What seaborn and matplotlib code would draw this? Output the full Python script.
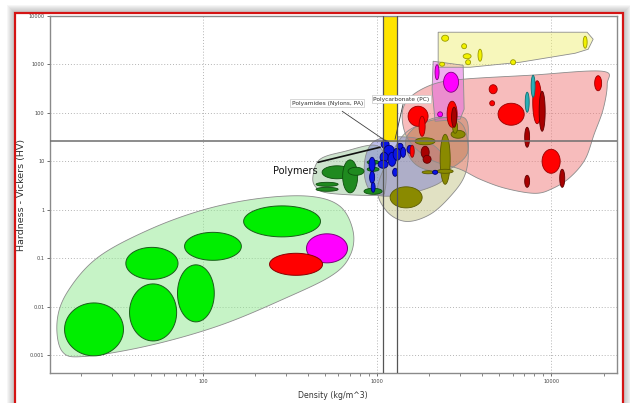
import numpy as np
import matplotlib
matplotlib.use("Agg")
import matplotlib.pyplot as plt
from matplotlib.patches import Rectangle
from matplotlib.ticker import FixedLocator, FuncFormatter, LogLocator, NullFormatter
import seaborn as sns

# ---------------- data ----------------
# bubbles: (low, high) density in kg/m^3 and (low, high) Vickers hardness in HV
foam_rho = [(16.0, 34.9), (37.8, 70.5), (36.0, 71.8), (71.3, 116), (78.3, 166), (171, 473)]
foam_hv = [(0.00096, 0.0119), (0.00195, 0.0294), (0.0365, 0.167), (0.00483, 0.0728), (0.0902, 0.341), (0.275, 1.20)]
rigid_foam_rho = [(393, 676)]
rigid_foam_hv = [(0.080, 0.318)]
metal_foam_rho = [(241, 486)]
metal_foam_hv = [(0.0442, 0.126)]

elast_rho = [(483, 718), (634, 773), (681, 841), (446, 597), (446, 597), (841, 1069), (877, 1026), (877, 1026)]
elast_hv = [(4.35, 8.07), (2.23, 10.7), (5.14, 7.52), (3.04, 3.68), (2.40, 2.90), (2.08, 2.77), (8.67, 10.5), (6.21, 7.52)]

natural_rho = [(1188, 1815), (1652, 2153), (2303, 2630), (2661, 3205), (2717, 2902), (2212, 2735), (1815, 2127)]
natural_hv = [(1.09, 2.97), (21.9, 30.6), (3.35, 36.1), (29.9, 43.6), (37.9, 67.0), (5.65, 6.84), (5.52, 6.37)]

polymer_rho = [(1055, 1172), (1097, 1253), (1040, 1156), (1014, 1156), (1156, 1285), (899, 974), (906, 968),
               (925, 974), (1236, 1374), (1228, 1312), (1303, 1409), (1365, 1459), (2084, 2228), (1486, 1610)]
polymer_hv = [(18.6, 27.2), (13.3, 21.4), (9.53, 15.3), (7.17, 10.5), (7.88, 15.3), (6.21, 12.1), (3.51, 6.21),
              (2.29, 3.68), (10.5, 18.6), (4.90, 7.17), (17.7, 23.5), (12.1, 19.5), (5.38, 6.52), (14.6, 21.4)]

metal_rho = [(4955, 7003), (4404, 4898), (4436, 4734), (17780, 19500), (7840, 8815), (8867, 11270),
             (1507, 1963), (1742, 1888), (2523, 2884), (1549, 1634)]
metal_hv = [(55.5, 158), (248, 381), (140, 178), (286, 585), (59.6, 460), (5.65, 17.7),
            (52.8, 137), (32.8, 85.1), (50.4, 174), (12.1, 21.4)]
dark_metal_rho = [(8532, 9240), (7047, 7521), (11200, 11970), (7047, 7521), (2679, 2865), (1791, 1992), (1837, 2042)]
dark_metal_hv = [(41.7, 279), (19.5, 50.4), (2.90, 6.84), (2.90, 5.14), (50.4, 131), (11.5, 20.4), (9.10, 13.3)]
teal_rho = [(7096, 7479), (7674, 8085)]
teal_hv = [(103, 267), (210, 598)]

glass_rho = [(2410, 2938), (2153, 2270), (2228, 2379)]
glass_hv = [(267, 690), (483, 986), (83.0, 105)]
ceramic_rho = [(2349, 2577), (3061, 3268), (3122, 3468), (3226, 3444), (3801, 4009), (5848, 6249),
               (15280, 16100), (2286, 2443)]
ceramic_hv = [(3013, 4011), (2111, 2679), (1312, 1663), (986, 1250), (1164, 2061), (986, 1250),
              (2163, 3828), (918, 1110)]

# family envelopes (outline vertices: density, hardness)
env_foam_rho = [15.5, 14.5, 16.7, 24.9, 49.5, 103, 213, 412, 613, 728, 700, 551, 296, 125, 49.5, 21.0]
env_foam_hv = [0.00119, 0.00494, 0.0206, 0.104, 0.394, 1.02, 1.72, 1.89, 1.17, 0.358, 0.114, 0.0442,
               0.0148, 0.00409, 0.00158, 0.000935]
env_elast_rho = [428, 470, 655, 974, 1112, 1112, 1000, 537, 446]
env_elast_hv = [4.90, 11.0, 16.1, 21.4, 11.0, 2.64, 1.99, 2.18, 2.90]
env_natural_rho = [1014, 1112, 1449, 2018, 2698, 3205, 3335, 3081, 2303, 1766, 1355]
env_natural_hv = [3.35, 1.02, 0.575, 0.803, 2.08, 5.38, 17.7, 58.1, 81.1, 58.1, 28.5]
env_polymer_rho = [865, 1014, 1549, 2070, 2460, 2460, 2018, 1355, 974, 853]
env_polymer_hv = [14.0, 28.5, 31.3, 22.4, 11.0, 4.67, 2.90, 1.99, 2.08, 4.25]
env_metal_rho = [1393, 1549, 2099, 3122, 7568, 19630, 20990, 19910, 17660, 15680, 12850, 10250, 8085,
                 5446, 3909, 2999, 2018, 1507]
env_metal_hv = [93.5, 210, 390, 495, 598, 724, 390, 119, 36.1, 11.0, 4.67, 2.77, 2.18, 2.77, 4.25,
                6.84, 11.0, 28.5]
env_comp_rho = [1486, 1888, 3122, 3335, 3205, 2395, 1766, 1507]
env_comp_hv = [32.8, 64.0, 81.1, 28.5, 12.1, 6.21, 7.52, 14.0]
env_glass_rho = [2099, 3122, 3163, 2999, 2153, 2070]
env_glass_hv = [1164, 962, 119, 73.8, 67.0, 307]
env_ceramic_rho = [2243, 16100, 17430, 16330, 13750, 6637, 3423, 2243]
env_ceramic_hv = [4624, 4624, 3317, 2061, 1703, 1110, 875, 875]

# selection limits
sel_rho = (1080, 1300)
sel_hv = 26

x_ticks = [100, 1000, 10000]
y_ticks = [0.001, 0.01, 0.1, 1, 10, 100, 1000, 10000]

# ---------------- drawing ----------------
sns.set_theme(style="white")
W, H = 630, 403
fig = plt.figure(figsize=(W / 100, H / 100), dpi=100)
fig.patch.set_facecolor("white")

# frame shadow + red border
for i in range(8, 0, -1):
    fig.patches.append(Rectangle(((15 - i) / W, 0), (608 + 2 * i) / W, (390 + i) / H,
                                 transform=fig.transFigure, fc="#808080", ec="none",
                                 alpha=0.07, zorder=-3))
fig.patches.append(Rectangle((15 / W, 0), 608 / W, 390 / H, transform=fig.transFigure,
                             fc="white", ec="none", zorder=-2))
fig.patches.append(Rectangle((15 / W, -0.05), 608 / W, 390 / H + 0.05, transform=fig.transFigure,
                             fill=False, ec="#d41414", lw=1.6, zorder=10))

ax = fig.add_axes([50 / W, 1 - 373 / H, 567 / W, 357 / H])
ax.set_facecolor("white")
ax.set_xscale("log")
ax.set_yscale("log")
ax.set_xlim(13.2, 23900)
ax.set_ylim(0.000425, 10000)
ax.set_axisbelow(True)


def smooth_closed(xs, ys, n=14):
    P = np.column_stack([np.log10(xs), np.log10(ys)])
    N = len(P)
    out = []
    t = np.linspace(0, 1, n, endpoint=False)[:, None]
    for i in range(N):
        p0, p1, p2, p3 = P[(i - 1) % N], P[i], P[(i + 1) % N], P[(i + 2) % N]
        pts = 0.5 * (2 * p1 + (-p0 + p2) * t + (2 * p0 - 5 * p1 + 4 * p2 - p3) * t ** 2
                     + (-p0 + 3 * p1 - 3 * p2 + p3) * t ** 3)
        out.append(pts)
    out = np.vstack(out)
    return 10 ** out[:, 0], 10 ** out[:, 1]


def envelope(xs, ys, fc, alpha, smooth=True):
    if smooth:
        x, y = smooth_closed(xs, ys)
    else:
        x, y = xs, ys
    ax.fill(x, y, fc=fc, alpha=alpha, ec="none", zorder=1)
    ax.fill(x, y, fill=False, ec="#8c8c8c", lw=0.6, zorder=1.1)


def bubbles(rhos, hvs, fc, ec, lw=0.6):
    t = np.linspace(0, 2 * np.pi, 72)
    for (r0, r1), (h0, h1) in zip(rhos, hvs):
        lx0, lx1 = np.log10(r0), np.log10(r1)
        ly0, ly1 = np.log10(h0), np.log10(h1)
        cx, cy = (lx0 + lx1) / 2, (ly0 + ly1) / 2
        a, b = (lx1 - lx0) / 2, (ly1 - ly0) / 2
        ax.fill(10 ** (cx + a * np.cos(t)), 10 ** (cy + b * np.sin(t)), fc=fc, ec=ec, lw=lw, zorder=3)


envelope(env_foam_rho, env_foam_hv, "#8fe88f", 0.5)
envelope(env_elast_rho, env_elast_hv, "#9cc89c", 0.5)
envelope(env_natural_rho, env_natural_hv, "#c4c488", 0.5)
envelope(env_polymer_rho, env_polymer_hv, "#7070d0", 0.45)
envelope(env_metal_rho, env_metal_hv, "#f07a7a", 0.5)
envelope(env_comp_rho, env_comp_hv, "#b87850", 0.45)
envelope(env_glass_rho, env_glass_hv, "#e060e0", 0.5, smooth=False)
envelope(env_ceramic_rho, env_ceramic_hv, "#f0f078", 0.5, smooth=False)

# selection band (yellow)
ax.fill_between(list(sel_rho), [sel_hv, sel_hv], [10000, 10000], fc="#ffe400", ec="#c9b000",
                lw=0.6, zorder=2)

bubbles(foam_rho, foam_hv, "#00ee00", "#1a5e1a", 0.7)
bubbles(rigid_foam_rho, rigid_foam_hv, "#ff00ff", "#7a007a", 0.7)
bubbles(metal_foam_rho, metal_foam_hv, "#ff0000", "#8a0000", 0.7)
bubbles(elast_rho, elast_hv, "#1f8a1f", "#0d4d0d")
bubbles(natural_rho, natural_hv, "#8a8a00", "#5a5a00")
bubbles(polymer_rho, polymer_hv, "#0a14e6", "#000070")
bubbles(metal_rho, metal_hv, "#ff0000", "#990000")
bubbles(dark_metal_rho, dark_metal_hv, "#a80000", "#600000")
bubbles(teal_rho, teal_hv, "#2ab0b8", "#107070")
bubbles(glass_rho, glass_hv, "#ff00ff", "#800080")
bubbles(ceramic_rho, ceramic_hv, "#f2f200", "#9a9a00")

# selection lines
ax.axhline(sel_hv, color="#6e6e6e", lw=1.1, zorder=4)
for r in sel_rho:
    ax.axvline(r, color="#555555", lw=0.9, zorder=4)

# annotations
ax.plot([630, 1127], [108, 25.9], color="#404040", lw=0.6, zorder=5)
ax.plot([1410, 1268], [151, 28.5], color="#404040", lw=0.6, zorder=5)
ax.plot([458, 1040], [9.53, 19.5], color="#111111", lw=1.2, zorder=5)
box = dict(boxstyle="square,pad=0.25", fc="white", ec="#c8c8c8", lw=0.5)
ax.text(517, 158, "Polyamides (Nylons, PA)", fontsize=4.2, color="#333333", ha="center",
        va="center", bbox=box, zorder=6)
ax.text(1375, 191, "Polycarbonate (PC)", fontsize=4.2, color="#333333", ha="center",
        va="center", bbox=box, zorder=6)
ax.text(338, 6.21, "Polymers", fontsize=7, color="#111111", ha="center", va="center", zorder=6)

# axes styling
ax.xaxis.set_major_locator(FixedLocator(x_ticks))
ax.yaxis.set_major_locator(FixedLocator(y_ticks))
ax.xaxis.set_minor_locator(LogLocator(base=10, subs=np.arange(2, 10)))
ax.xaxis.set_minor_formatter(NullFormatter())
ax.yaxis.set_minor_locator(FixedLocator([]))
fmt = FuncFormatter(lambda v, p: f"{v:g}")
ax.xaxis.set_major_formatter(fmt)
ax.yaxis.set_major_formatter(fmt)
ax.tick_params(axis="both", which="major", labelsize=3.6, labelcolor="#444444", length=2.5,
               width=0.6, color="#555555", pad=1.5, direction="out", bottom=True, left=True)
ax.tick_params(axis="x", which="minor", length=1.8, width=0.5, color="#555555", bottom=True)
ax.grid(True, which="major", color="#b4b4b4", lw=0.7, ls=(0, (1, 2)))
for s in ax.spines.values():
    s.set_color("#8a8a8a")
    s.set_linewidth(1.0)
    s.set_visible(True)

fig.text(333 / W, 1 - 396 / H, "Density (kg/m^3)", fontsize=5.6, color="#333333",
         ha="center", va="center")
fig.text(22 / W, 1 - 195 / H, "Hardness - Vickers (HV)", fontsize=6.8, color="#333333",
         ha="center", va="center", rotation=90)

fig.savefig("out.png", dpi=100)
